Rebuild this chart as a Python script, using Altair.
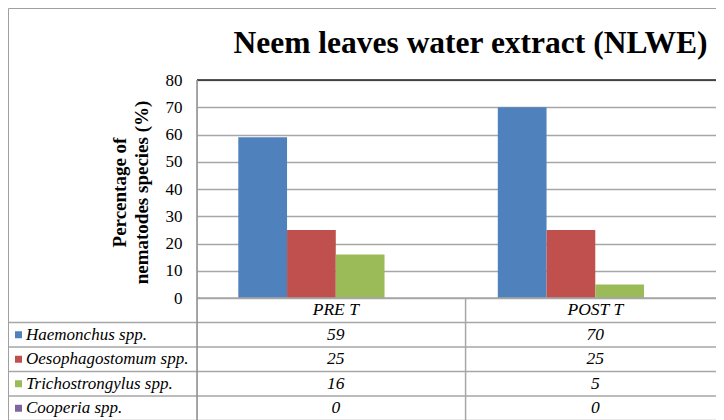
import altair as alt
import pandas as pd

# ---- data ----
categories = ["PRE T", "POST T"]
species = ["Haemonchus spp.", "Oesophagostomum spp.", "Trichostrongylus spp.", "Cooperia spp."]
haemonchus = [59, 70]
oesophagostomum = [25, 25]
trichostrongylus = [16, 5]
cooperia = [0, 0]
colors = ["#4F81BD", "#C0504D", "#9BBB59", "#8064A2"]
y_ticks = [0, 10, 20, 30, 40, 50, 60, 70, 80]
title_text = "Neem leaves water extract (NLWE)"
y_title = ["Percentage of", "nematodes species (%)"]

series = [haemonchus, oesophagostomum, trichostrongylus, cooperia]

bars_df = pd.DataFrame(
    [{"cat": c, "species": s, "value": vals[j]}
     for s, vals in zip(species, series) for j, c in enumerate(categories)]
)
values_df = pd.DataFrame(
    [{"cat": c, "row": i + 1.5, "text": str(vals[j])}
     for i, vals in enumerate(series) for j, c in enumerate(categories)]
)
header_df = pd.DataFrame([{"cat": c, "row": 0.5, "text": c} for c in categories])
legend_df = pd.DataFrame([{"species": s, "row": i + 1.5} for i, s in enumerate(species)])
hlines_df = pd.DataFrame({"b": [1, 2, 3, 4, 5]})
vline_df = pd.DataFrame({"cat": categories[1:], "top": [0], "bottom": [5]})
top_df = pd.DataFrame({"v": [y_ticks[-1]]})
title_df = pd.DataFrame({"t": [title_text]})

W, H = 519, 340
BAR_H = 218
FONT = "Liberation Serif"
GRID = "#a6a6a6"

xscale = alt.Scale(domain=categories, paddingInner=0, paddingOuter=0)
row_scale = alt.Scale(domain=[0, 5], range=[BAR_H, BAR_H + 5 * 24.5])

bars = alt.Chart(bars_df).mark_bar().encode(
    x=alt.X("cat:N", sort=categories, scale=xscale, axis=None),
    xOffset=alt.XOffset("species:N", sort=species,
                        scale=alt.Scale(domain=species, paddingInner=0,
                                        paddingOuter=0.662, align=0.64)),
    y=alt.Y("value:Q",
            scale=alt.Scale(domain=[0, 80], range=[BAR_H, 0], nice=False),
            axis=alt.Axis(values=y_ticks, title=y_title, grid=True, gridColor=GRID,
                          gridWidth=1.5, domain=False, ticks=False, labelPadding=15,
                          labelFont=FONT, labelFontSize=17, labelColor="black",
                          titleFont=FONT, titleFontSize=19, titleFontWeight="bold",
                          titleColor="black", titleLineHeight=22, titleAngle=270,
                          titleBaseline="middle", titleAlign="center",
                          titleX=-78, titleY=BAR_H / 2 + 3)),
    color=alt.Color("species:N", scale=alt.Scale(domain=species, range=colors), legend=None),
)

top_rule = alt.Chart(top_df).mark_rule(color="#222222", strokeWidth=1.5).encode(
    y=alt.Y("v:Q", scale=alt.Scale(domain=[0, 80], range=[BAR_H, 0], nice=False), axis=None),
    x=alt.value(0), x2=alt.value(W),
)

x_axis_line = alt.Chart(pd.DataFrame({"b": [0]})).mark_rule(color=GRID, strokeWidth=1.5).encode(
    y=alt.Y("b:Q", scale=row_scale, axis=None), x=alt.value(0), x2=alt.value(W),
)

hlines = alt.Chart(hlines_df).mark_rule(color=GRID, strokeWidth=1.5).encode(
    y=alt.Y("b:Q", scale=row_scale, axis=None), x=alt.value(-189), x2=alt.value(W),
)

vline = alt.Chart(vline_df).mark_rule(color=GRID, strokeWidth=1.5).encode(
    x=alt.X("cat:N", sort=categories, scale=xscale, axis=None, bandPosition=0.035),
    y=alt.Y("top:Q", scale=row_scale, axis=None), y2="bottom:Q",
)

left_axis = alt.Chart(pd.DataFrame({"a": [0]})).mark_rule(color="#8c8c8c", strokeWidth=1.5).encode(
    x=alt.value(0), y=alt.value(0), y2=alt.value(H),
)

border_top = alt.Chart(pd.DataFrame({"a": [0]})).mark_rule(color="#a0a0a0", strokeWidth=1).encode(
    x=alt.value(-188.5), x2=alt.value(W), y=alt.value(-71.5),
)
border_left = alt.Chart(pd.DataFrame({"a": [0]})).mark_rule(color="#a0a0a0", strokeWidth=1).encode(
    x=alt.value(-188.5), y=alt.value(-71.5), y2=alt.value(H),
)

title_mark = alt.Chart(title_df).mark_text(
    font=FONT, fontSize=31.5, fontWeight="bold", color="black", align="center",
    baseline="alphabetic"
).encode(x=alt.value(273.5), y=alt.value(-27), text="t:N")

values_text = alt.Chart(values_df).mark_text(
    font=FONT, fontSize=17.5, fontStyle="italic", color="black", baseline="middle"
).encode(
    x=alt.X("cat:N", sort=categories, scale=xscale, axis=None, bandPosition=0.535),
    y=alt.Y("row:Q", scale=row_scale, axis=None),
    text="text:N",
)

header_text = alt.Chart(header_df).mark_text(
    font=FONT, fontSize=17.5, fontStyle="italic", color="black", baseline="middle"
).encode(
    x=alt.X("cat:N", sort=categories, scale=xscale, axis=None, bandPosition=0.535),
    y=alt.Y("row:Q", scale=row_scale, axis=None),
    text="text:N",
)

legend_sq = alt.Chart(legend_df).mark_square(size=49, opacity=1).encode(
    x=alt.value(-178.5),
    y=alt.Y("row:Q", scale=row_scale, axis=None),
    color=alt.Color("species:N", scale=alt.Scale(domain=species, range=colors), legend=None),
)

legend_txt = alt.Chart(legend_df).mark_text(
    font=FONT, fontSize=17, fontStyle="italic", color="black", align="left", baseline="middle"
).encode(
    x=alt.value(-171),
    y=alt.Y("row:Q", scale=row_scale, axis=None),
    text="species:N",
)

chart = alt.layer(
    bars, top_rule, x_axis_line, hlines, vline, left_axis, border_top, border_left,
    title_mark, values_text, header_text, legend_sq, legend_txt,
).resolve_scale(
    y="independent", color="shared"
).properties(
    width=W, height=H,
    autosize=alt.AutoSizeParams(type="none"),
    padding={"left": 189, "top": 72, "right": 0, "bottom": 0},
).configure_view(stroke=None).configure(background="white")

chart.save("out.html", embed_options={"renderer": "svg", "actions": False})
